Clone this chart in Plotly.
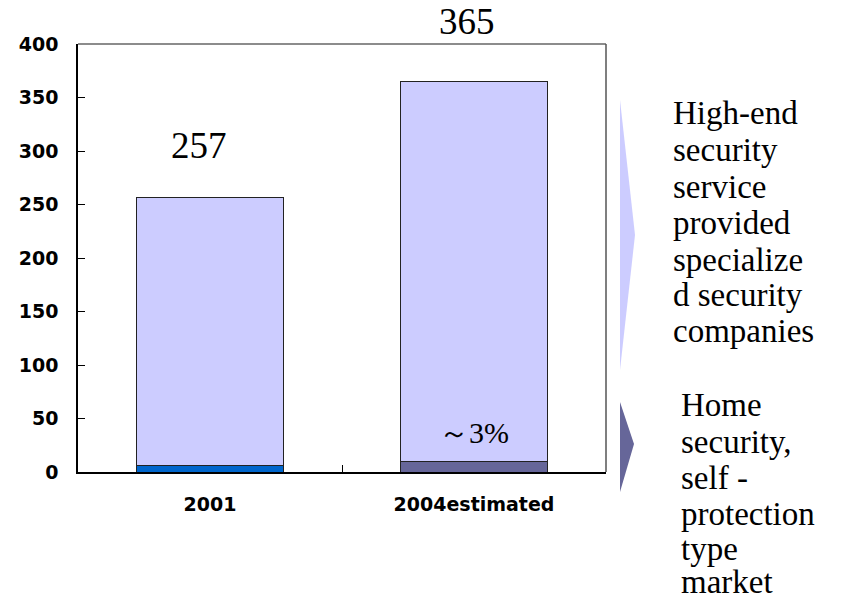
import plotly.graph_objects as go

categories = ["2001", "2004estimated"]
home_security = [6, 10]          # home security / self-protection market
high_end = [251, 355]            # high-end security service by specialized companies
totals = [257, 365]
share_label = "～3%"
y_ticks = [0, 50, 100, 150, 200, 250, 300, 350, 400]

high_end_lines = ["High-end", "security", "service", "provided", "specialize", "d security", "companies"]
home_lines = ["Home", "security,", "self -", "protection", "type", "market"]

# page body has an 8px margin in the browser, so the figure is drawn offset by 8px
OFF = 8
FW, FH = 843 - OFF, 597 - OFF
L, R, T, B = 78, 606, 44, 472   # plot area in window pixels
W, H = R - L, B - T

def px(xp):
    return (xp - L) / W

def py(yp):
    return (B - yp) / H

fig = go.Figure()
fig.add_trace(go.Bar(x=categories, y=home_security, marker=dict(color=["#0066cc", "#666699"], line=dict(color="#222222", width=1)), width=0.557, showlegend=False))
fig.add_trace(go.Bar(x=categories, y=high_end, marker=dict(color="#ccccff", line=dict(color="#222222", width=1)), width=0.557, showlegend=False))

annotations = []
total_shift = [52, 60]
total_xshift = [-11, -7]
for i, (t, s, xs) in enumerate(zip(totals, total_shift, total_xshift)):
    annotations.append(dict(x=i, y=t, xref="x", yref="y", text=str(t), showarrow=False,
                            yanchor="middle", yshift=s, xshift=xs,
                            font=dict(family="Liberation Serif", size=37, color="black")))
annotations.append(dict(x=1, y=home_security[1], xref="x", yref="y", text=share_label,
                        showarrow=False, yanchor="middle", yshift=29,
                        font=dict(family="Liberation Serif", size=30, color="black")))

first_y = [113, 150, 187, 223, 260, 295, 331]
for line, yy in zip(high_end_lines, first_y):
    annotations.append(dict(x=px(671), y=py(yy), xref="paper", yref="paper", text=line, showarrow=False,
                            xanchor="left", yanchor="middle",
                            font=dict(family="Liberation Serif", size=33, color="black")))
second_y = [405, 442, 478, 514, 549, 582]
for line, yy in zip(home_lines, second_y):
    annotations.append(dict(x=px(679), y=py(yy), xref="paper", yref="paper", text=line, showarrow=False,
                            xanchor="left", yanchor="middle",
                            font=dict(family="Liberation Serif", size=33, color="black")))

shapes = [
    dict(type="line", xref="paper", yref="paper", x0=0, x1=1, y0=1, y1=1, line=dict(color="#666666", width=1.5)),
    dict(type="line", xref="paper", yref="paper", x0=1, x1=1, y0=0, y1=1, line=dict(color="#555555", width=1.5)),
    dict(type="path", xref="paper", yref="paper",
         path=f"M {px(620)},{py(100)} L {px(635)},{py(235)} L {px(620)},{py(370)} Z",
         fillcolor="#ccccff", line=dict(width=0)),
    dict(type="path", xref="paper", yref="paper",
         path=f"M {px(620)},{py(402)} L {px(634)},{py(444)} L {px(620)},{py(492)} Z",
         fillcolor="#666699", line=dict(width=0)),
]

fig.update_layout(
    width=FW, height=FH, barmode="stack",
    margin=dict(l=L - OFF, r=843 - R, t=T - OFF, b=597 - B),
    paper_bgcolor="white", plot_bgcolor="white",
    annotations=annotations, shapes=shapes,
    xaxis=dict(type="category", categoryorder="array", categoryarray=categories, range=[-0.5, 1.5],
               tickson="boundaries", ticks="inside", ticklen=7, tickcolor="black",
               showline=True, linecolor="black", linewidth=1.5, showgrid=False, automargin=False,
               tickangle=0,
               tickfont=dict(family="DejaVu Sans", size=19, color="black", weight="bold"),
               ticklabelstandoff=14),
    yaxis=dict(range=[0, 400], tickvals=y_ticks, ticks="inside", ticklen=7, tickcolor="black",
               showline=True, linecolor="black", linewidth=1.5, showgrid=False, zeroline=False,
               automargin=False,
               tickfont=dict(family="DejaVu Sans", size=19, color="black", weight="bold"),
               ticklabelstandoff=14),
)

fig.write_html("out.html")
